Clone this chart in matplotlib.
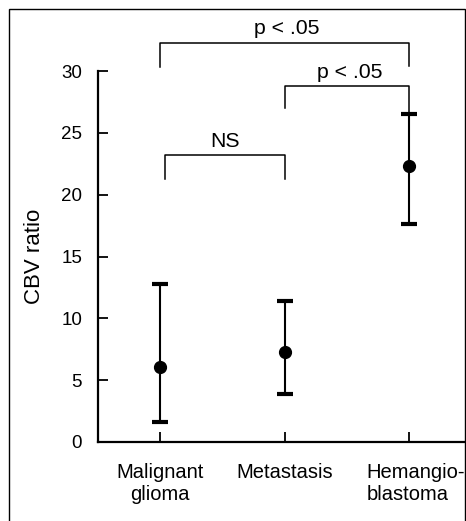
import matplotlib
matplotlib.use("Agg")
import matplotlib.pyplot as plt
import matplotlib.transforms as mtransforms
from matplotlib.patches import Rectangle

plt.rcParams['font.family'] = ['Liberation Sans', 'DejaVu Sans']

categories = ["Malignant\nglioma", "Metastasis", "Hemangio-\nblastoma"]
means = [6.1, 7.3, 22.3]
upper = [12.8, 11.4, 26.5]
lower = [1.6, 3.9, 17.6]
yticks = [0, 5, 10, 15, 20, 25, 30]

# brackets: (x_left, x_right, y_bar, y_left_end, y_right_end, label, label_y, label_x)
brackets = [
    (0.0, 2.0, 32.25, 30.35, 30.4, "p < .05", 33.4, 1.02),
    (1.0, 2.0, 28.8, 27.0, 26.5, "p < .05", 29.85, 1.52),
    (0.04, 1.0, 23.2, 21.3, 21.3, "NS", 24.3, 0.52),
]

W, H = 466, 521
fig = plt.figure(figsize=(W/100, H/100), dpi=100)
ax = fig.add_axes([98/W, 1-442/H, 367/W, 371/H])

x = list(range(len(categories)))
yerr = [[m - l for m, l in zip(means, lower)], [u - m for m, u in zip(means, upper)]]
ax.errorbar(x, means, yerr=yerr, fmt='o', color='black', ms=8.5,
            elinewidth=1.5, capsize=6, capthick=3, clip_on=False, zorder=3)

for xl, xr, yb, yle, yre, lab, ly, lx in brackets:
    ax.plot([xl, xl, xr, xr], [yle, yb, yb, yre], color='black', lw=1.1, clip_on=False)
    ax.text(lx, ly, lab, ha='center', va='center', fontsize=15.3, clip_on=False)

ax.set_xlim(-0.5, 2.45)
ax.set_ylim(0, 30)
ax.set_yticks(yticks)
ax.set_yticklabels([str(t) for t in yticks])
ax.set_xticks(x)
ax.set_xticklabels(categories, fontsize=14.5)
ax.tick_params(axis='y', direction='in', length=7, width=1.3, pad=11.5, labelsize=13.5)
ax.tick_params(axis='x', direction='in', length=7, width=1.3, pad=15, labelsize=14.5)
lbl = ax.get_xticklabels()[2]
lbl.set_multialignment('left')
lbl.set_transform(lbl.get_transform() +
                  mtransforms.ScaledTranslation(7/100, 0, fig.dpi_scale_trans))
for s in ['top', 'right']:
    ax.spines[s].set_visible(False)
for s in ['left', 'bottom']:
    ax.spines[s].set_linewidth(1.6)
ax.set_ylabel("CBV ratio", fontsize=16)
ax.yaxis.set_label_coords(-(98-45)/367, 0.5)

fig.patches.append(Rectangle((9/W, -0.01), (465-9)/W, 1-9/H+0.01,
                             transform=fig.transFigure, fill=False,
                             edgecolor='black', lw=1.0))

fig.savefig("out.png", dpi=100)
